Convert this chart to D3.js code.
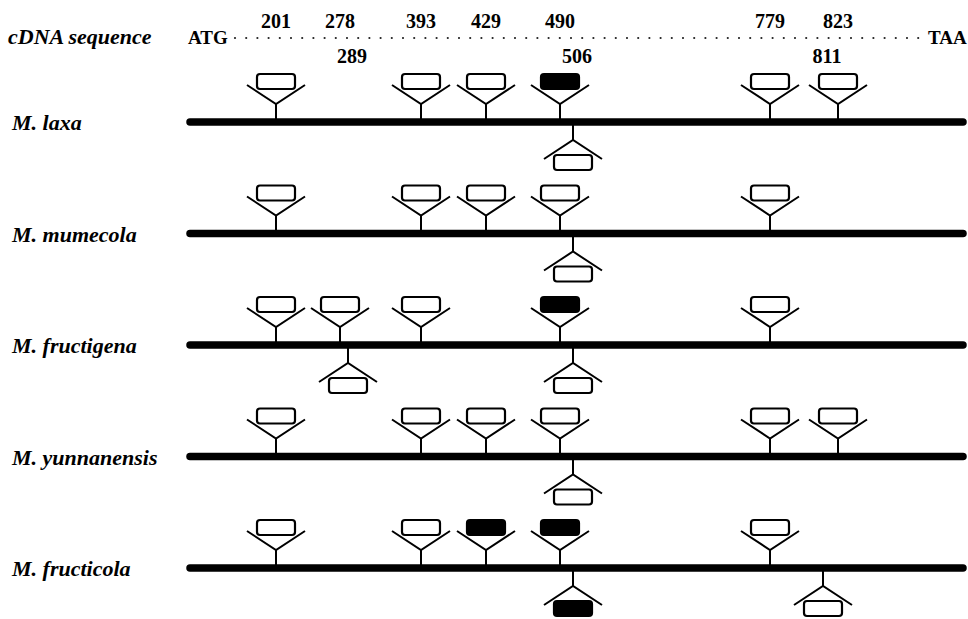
<!DOCTYPE html>
<html>
<head>
    <meta charset="UTF-8">
    <title>Intron positions</title>
    <style type="text/css">
        body {
            margin: 0;
            background-color: #ffffff;
            font-family: 'Liberation Serif', 'Times New Roman', serif;
        }
        .species {
            font-size: 22px;
            font-weight: bold;
            font-style: italic;
        }
        .head {
            font-size: 22px;
            font-weight: bold;
            font-style: italic;
        }
        .codon {
            font-size: 19px;
            font-weight: bold;
        }
        .site-label {
            font-size: 20px;
            font-weight: bold;
        }
    </style>
</head>
<body>
    <script src="https://d3js.org/d3.v7.min.js"></script>
    <script type="text/javascript">
        // species (rows)
        const speciesNames = ['M. laxa', 'M. mumecola', 'M. fructigena', 'M. yunnanensis', 'M. fructicola'];

        // intron sites on the cDNA, labels above and below the dotted line
        const topSites = [201, 278, 393, 429, 490, 779, 823];
        const bottomSites = [289, 506, 811];

        // introns present in each species
        const laxaIntrons = [201, 393, 429, 490, 506, 779, 823];
        const mumecolaIntrons = [201, 393, 429, 490, 506, 779];
        const fructigenaIntrons = [201, 278, 289, 393, 490, 506, 779];
        const yunnanensisIntrons = [201, 393, 429, 490, 506, 779, 823];
        const fructicolaIntrons = [201, 393, 429, 490, 506, 779, 811];

        // introns drawn as filled boxes
        const laxaFilled = [490];
        const mumecolaFilled = [];
        const fructigenaFilled = [490];
        const yunnanensisFilled = [];
        const fructicolaFilled = [429, 490, 506];

        const introns = [laxaIntrons, mumecolaIntrons, fructigenaIntrons, yunnanensisIntrons, fructicolaIntrons];
        const filled = [laxaFilled, mumecolaFilled, fructigenaFilled, yunnanensisFilled, fructicolaFilled];

        const width = 968, height = 619;

        // schematic (not to scale) placement of the sites along the gene
        const allSites = topSites.concat(bottomSites).sort((a, b) => a - b);
        const anchorX = [276, 340, 348, 421, 486, 560, 573, 770, 823, 838];
        const x = d3.scaleLinear().domain(allSites).range(anchorX);

        const y = d3.scalePoint().domain(speciesNames).range([122, 568]);

        const lineStart = 190, lineEnd = 963;

        const svg = d3.select('body').append('svg')
                      .attr('width', width)
                      .attr('height', height);

        // header
        const head = svg.append('g');

        head.append('text')
            .attr('class', 'head')
            .attr('x', 8)
            .attr('y', 44)
            .text('cDNA sequence');

        head.append('text')
            .attr('class', 'codon')
            .attr('x', 188)
            .attr('y', 44)
            .text('ATG');

        head.append('text')
            .attr('class', 'codon')
            .attr('x', 928)
            .attr('y', 44)
            .text('TAA');

        // dotted cDNA line
        head.append('line')
            .attr('x1', 235)
            .attr('x2', 924)
            .attr('y1', 38)
            .attr('y2', 38)
            .attr('stroke', '#222')
            .attr('stroke-width', 2.2)
            .attr('stroke-linecap', 'round')
            .attr('stroke-dasharray', '0 11.2');

        head.selectAll('.top-label')
            .data(topSites)
            .enter()
            .append('text')
            .attr('class', 'site-label')
            .attr('x', d => x(d))
            .attr('y', 28)
            .attr('text-anchor', 'middle')
            .text(d => d);

        head.selectAll('.bottom-label')
            .data(bottomSites)
            .enter()
            .append('text')
            .attr('class', 'site-label')
            .attr('x', d => x(d) + 4)
            .attr('y', 63)
            .attr('text-anchor', 'middle')
            .text(d => d);

        // species rows
        const rows = svg.selectAll('.row')
                        .data(speciesNames)
                        .enter()
                        .append('g')
                        .attr('class', 'row')
                        .attr('transform', d => `translate(0,${y(d)})`);

        rows.append('text')
            .attr('class', 'species')
            .attr('x', 12)
            .attr('y', 8)
            .text(d => d);

        rows.append('line')
            .attr('x1', lineStart)
            .attr('x2', lineEnd)
            .attr('stroke', '#000')
            .attr('stroke-width', 7.5)
            .attr('stroke-linecap', 'round');

        // intron glyphs: box on a "V" above the gene, or upside down below it
        const glyphs = rows.selectAll('.intron')
                           .data((d, i) => introns[i].map(site => ({
                               site: site,
                               dir: bottomSites.includes(site) ? 1 : -1,
                               filled: filled[i].includes(site)
                           })))
                           .enter()
                           .append('g')
                           .attr('class', 'intron')
                           .attr('transform', d => `translate(${x(d.site)},0)`);

        glyphs.append('line')
              .attr('y1', d => d.dir * 3)
              .attr('y2', d => d.dir * 18)
              .attr('stroke', '#000')
              .attr('stroke-width', 2);

        glyphs.append('path')
              .attr('d', d => `M-29,${d.dir * 37}L0,${d.dir * 18}L29,${d.dir * 37}`)
              .attr('fill', 'none')
              .attr('stroke', '#000')
              .attr('stroke-width', 2);

        glyphs.append('rect')
              .attr('x', -19)
              .attr('y', d => d.dir < 0 ? -48 : 33)
              .attr('width', 38)
              .attr('height', 15)
              .attr('rx', 3)
              .attr('fill', d => d.filled ? '#000' : '#fff')
              .attr('stroke', '#000')
              .attr('stroke-width', 2.2);
    </script>
</body>
</html>
